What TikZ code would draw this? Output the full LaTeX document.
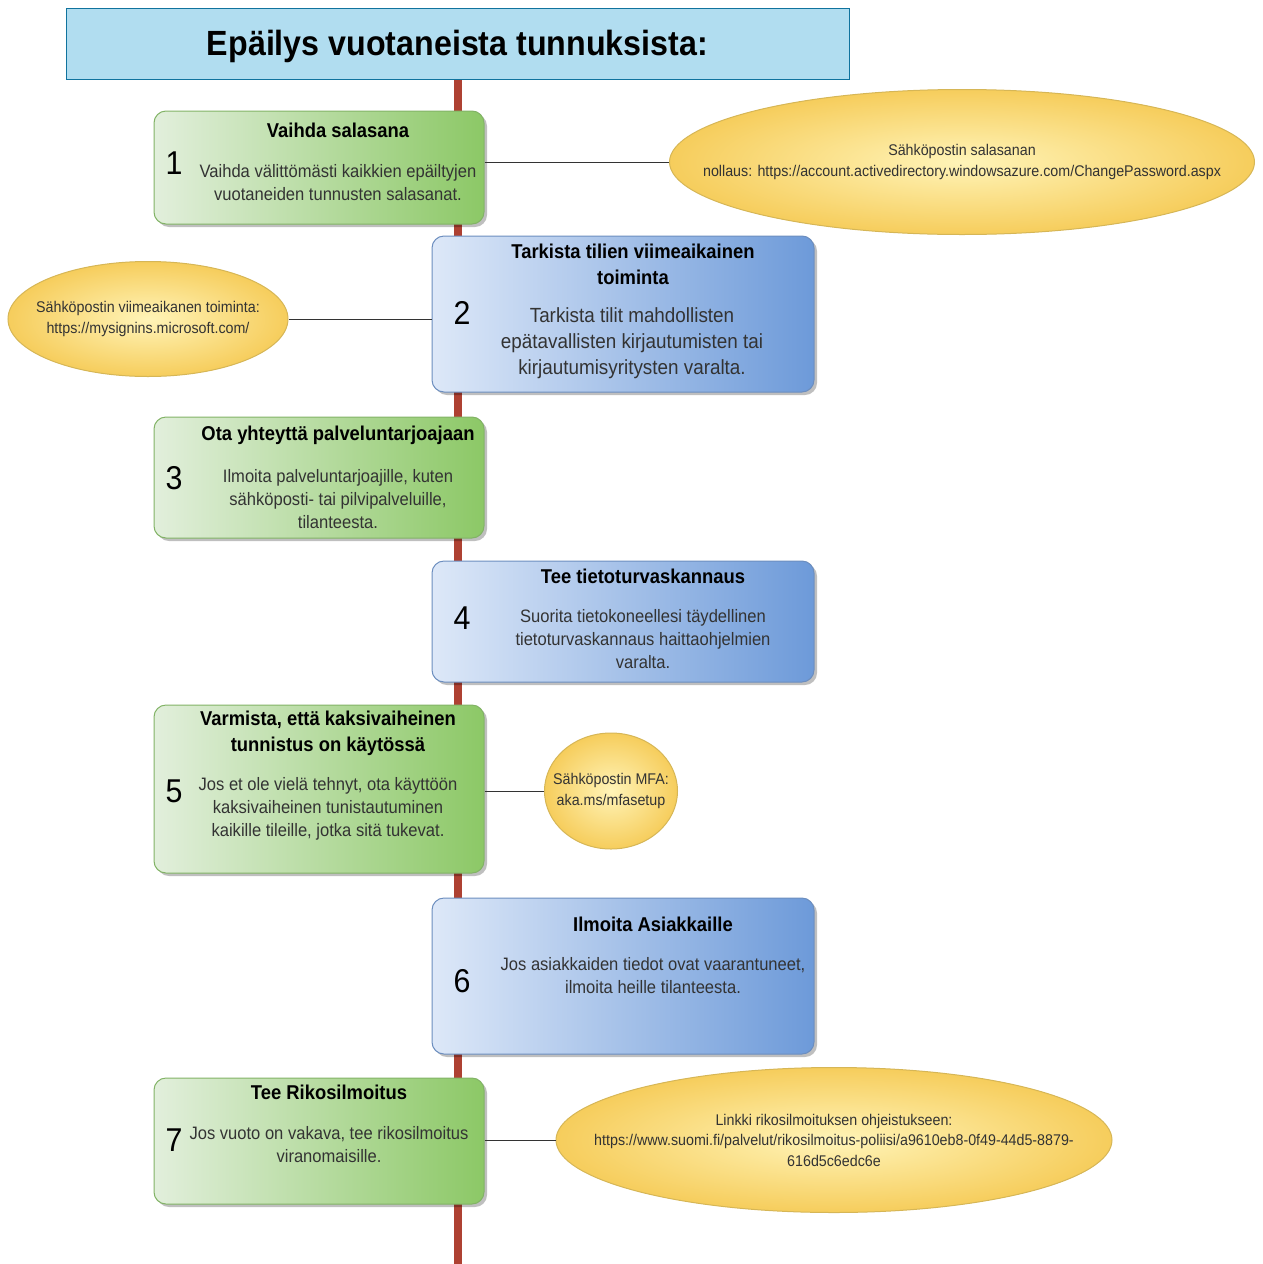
\documentclass[tikz,border=0pt]{standalone}
\usepackage{fontspec}
\setmainfont[FakeStretch=0.92]{Liberation Sans}
\usetikzlibrary{positioning,shapes.geometric,shadows}

\definecolor{titlefill}{HTML}{B1DDF0}
\definecolor{titleline}{HTML}{10739E}
\definecolor{spine}{HTML}{AE4132}
\definecolor{greenlight}{HTML}{E2EFDC}
\definecolor{greendark}{HTML}{8CC866}
\definecolor{greenline}{HTML}{82B366}
\definecolor{bluelight}{HTML}{DDE8F8}
\definecolor{bluedark}{HTML}{6D9AD9}
\definecolor{blueline}{HTML}{6C8EBF}
\definecolor{notelight}{HTML}{FFF4B8}
\definecolor{notedark}{HTML}{F6CD5C}
\definecolor{noteline}{HTML}{D6B656}
\definecolor{bodytext}{HTML}{333333}

\begin{document}
\begin{tikzpicture}[
	x = 1pt, y = -1pt, % one unit per pixel, y going down
	Title/.style={rectangle, draw=titleline, fill=titlefill, line width=1pt, minimum width=783pt, minimum height=71pt, inner sep=0pt, text depth=1.5pt, font=\fontsize{35}{42}\selectfont\bfseries},
	Green/.style={rectangle, rounded corners=12pt, draw=greenline, line width=1pt, left color=greenlight, right color=greendark, minimum width=330pt, inner sep=0pt, drop shadow={shadow xshift=3pt, shadow yshift=-3pt, fill=black, opacity=0.25}},
	Blue/.style={rectangle, rounded corners=12pt, draw=blueline, line width=1pt, left color=bluelight, right color=bluedark, minimum width=382pt, inner sep=0pt, drop shadow={shadow xshift=3pt, shadow yshift=-3pt, fill=black, opacity=0.25}},
	Note/.style={ellipse, draw=noteline, line width=1pt, inner color=notelight, outer color=notedark, inner sep=0pt},
	Num/.style={font=\fontsize{33}{33}\selectfont, inner sep=0pt},            % step number
	Head/.style={font=\fontsize{20}{26}\selectfont\bfseries, align=center, inner sep=0pt},
	Body/.style={font=\fontsize{18}{23}\selectfont, text=bodytext, align=center, inner sep=0pt},
	NoteText/.style={font=\fontsize{15.5}{20.5}\selectfont, text=bodytext, align=center, inner sep=0pt},
	Link/.style={draw=bodytext, line width=1pt},
	]
	\useasboundingbox (0,0) rectangle (1262,1264);

	% Title and the red line below it
	\node[Title] (title) at (457.5,43.5) {Epäilys vuotaneista tunnuksista:};
	\coordinate (end) at (457.5,1264);
	\draw[spine, line width=8pt] (title.south) -- (end);

	% Step 1
	\node[Green, minimum height=113pt] (s1) at (319,167.5) {};
	\node[Num]  (n1) at (174,163) {1};
	\node[Head] (h1) at (338,130) {Vaihda salasana};
	\node[Body] (b1) at (338,183) {Vaihda välittömästi kaikkien epäiltyjen\\vuotaneiden tunnusten salasanat.};
	\node[Note, minimum width=585pt, minimum height=145pt] (e1) at (962,162) {};
	\node[NoteText] (t1) at (e1) {Sähköpostin salasanan\\nollaus: https://account.activedirectory.windowsazure.com/ChangePassword.aspx};

	% Step 2
	\node[Blue, minimum height=156pt] (s2) at (623,314) {};
	\node[Num]  (n2) at (462,313) {2};
	\node[Head] (h2) at (633,264) {Tarkista tilien viimeaikainen\\toiminta};
	\node[Body, font=\fontsize{20.5}{26}\selectfont] (b2) at (632,343) {Tarkista tilit mahdollisten\\epätavallisten kirjautumisten tai\\kirjautumisyritysten varalta.};
	\node[Note, minimum width=280pt, minimum height=115pt] (e2) at (148,319) {};
	\node[NoteText] (t2) at (e2) {Sähköpostin viimeaikanen toiminta:\\https://mysignins.microsoft.com/};

	% Step 3
	\node[Green, minimum height=121pt] (s3) at (319,477.5) {};
	\node[Num]  (n3) at (174,478) {3};
	\node[Head] (h3) at (338,435) {Ota yhteyttä palveluntarjoajaan};
	\node[Body] (b3) at (338,499) {Ilmoita palveluntarjoajille, kuten\\sähköposti- tai pilvipalveluille,\\tilanteesta.};

	% Step 4
	\node[Blue, minimum height=121pt] (s4) at (623,621.5) {};
	\node[Num]  (n4) at (462,618) {4};
	\node[Head] (h4) at (643,576) {Tee tietoturvaskannaus};
	\node[Body] (b4) at (643,639) {Suorita tietokoneellesi täydellinen\\tietoturvaskannaus haittaohjelmien\\varalta.};

	% Step 5
	\node[Green, minimum height=168pt] (s5) at (319,789) {};
	\node[Num]  (n5) at (174,791) {5};
	\node[Head] (h5) at (328,733) {Varmista, että kaksivaiheinen\\tunnistus on käytössä};
	\node[Body] (b5) at (328,809) {Jos et ole vielä tehnyt, ota käyttöön\\kaksivaiheinen tunistautuminen\\kaikille tileille, jotka sitä tukevat.};
	\node[Note, minimum width=133pt, minimum height=116pt] (e5) at (611,791) {};
	\node[NoteText] (t5) at (e5) {Sähköpostin MFA:\\aka.ms/mfasetup};

	% Step 6
	\node[Blue, minimum height=156pt] (s6) at (623,976) {};
	\node[Num]  (n6) at (462,981) {6};
	\node[Head] (h6) at (653,924) {Ilmoita Asiakkaille};
	\node[Body] (b6) at (653,976) {Jos asiakkaiden tiedot ovat vaarantuneet,\\ilmoita heille tilanteesta.};

	% Step 7
	\node[Green, minimum height=126pt] (s7) at (319,1141) {};
	\node[Num]  (n7) at (174,1140) {7};
	\node[Head] (h7) at (329,1092) {Tee Rikosilmoitus};
	\node[Body] (b7) at (329,1145) {Jos vuoto on vakava, tee rikosilmoitus\\viranomaisille.};
	\node[Note, minimum width=556pt, minimum height=145pt] (e7) at (834,1140) {};
	\node[NoteText] (t7) at (e7) {Linkki rikosilmoituksen ohjeistukseen:\\https://www.suomi.fi/palvelut/rikosilmoitus-poliisi/a9610eb8-0f49-44d5-8879-\\616d5c6edc6e};

	% Links from the steps to the notes
	\path[Link] (e1.west -| s1.east) -- (e1.west);
	\path[Link] (e2.east) -- (e2.east -| s2.west);
	\path[Link] (e5.west -| s5.east) -- (e5.west);
	\path[Link] (e7.west -| s7.east) -- (e7.west);

\end{tikzpicture}
\end{document}
